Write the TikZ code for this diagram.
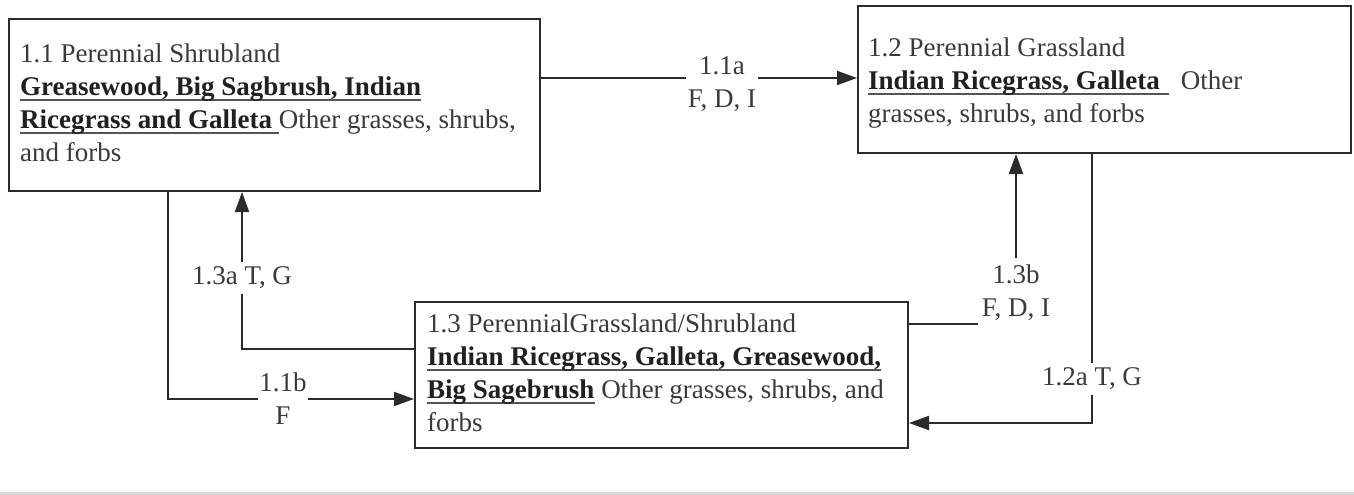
\documentclass[tikz,border=0pt]{standalone}
\usepackage{fontspec}
\setmainfont{Liberation Serif}
\usetikzlibrary{arrows.meta}
\definecolor{ink}{HTML}{2B2B2B}
\definecolor{txt}{HTML}{3A3A3A}
\definecolor{bld}{HTML}{202020}
\definecolor{ulc}{HTML}{555555}
\definecolor{band}{HTML}{D9D9D9}
\newsavebox\myulbox
\newcommand{\myul}[1]{\sbox\myulbox{\textbf{\color{bld}#1}}\leavevmode\rlap{\color{ulc}\rule[-6pt]{\wd\myulbox}{2pt}}\usebox\myulbox}
\tikzset{
  box/.style={draw=ink, line width=2pt, rectangle, anchor=north west, inner sep=0pt},
  body/.style={anchor=north west, inner sep=0pt, align=left, text=txt},
  conn/.style={draw=ink, line width=2pt},
  arr/.style={conn, -{Triangle[length=20pt,width=14pt]}},
  lbl/.style={fill=white, inner xsep=1.5pt, inner ysep=5pt, align=center, text=txt}
}
\begin{document}
\begin{tikzpicture}[x=1pt, y=-1pt, font=\fontsize{27pt}{33pt}\selectfont]
\useasboundingbox[fill=white] (0,0) rectangle (1354,495);
\fill[band] (0,492) rectangle (1354,495);

% boxes
\node[box, minimum width=531pt, minimum height=172pt] (b1) at (8,18) {};
\node[box, minimum width=493pt, minimum height=147pt] (b2) at (857,5) {};
\node[box, minimum width=493pt, minimum height=146pt] (b3) at (414,301) {};

% box texts
\node[body] (t1) at (20,43.5) {1.1 Perennial Shrubland\\
\myul{Greasewood, Big Sagbrush, Indian}\\
\myul{Ricegrass and Galleta }Other grasses, shrubs,\\
and forbs};
\node[body] (t2) at (868,37.5) {1.2 Perennial Grassland\\
\myul{Indian Ricegrass, Galleta\hspace{9pt}}\hspace{12pt}Other\\
grasses, shrubs, and forbs};
\node[body] (t3) at (427,313.5) {1.3 PerennialGrassland/Shrubland\\
\myul{Indian Ricegrass, Galleta, Greasewood,}\\
\myul{Big Sagebrush} Other grasses, shrubs, and\\
forbs};

% connectors
\draw[arr] (b1.east |- 0,78) -- (b2.west |- 0,78);
\draw[arr] (b1.south -| 168,0) |- (b3.west |- 0,399);
\draw[arr] (b3.west |- 0,349) -| (b1.south -| 242,0);
\draw[arr] (b3.east |- 0,324) -| (b2.south -| 1016,0);
\draw[arr] (b2.south -| 1092,0) |- (b3.east |- 0,423);

% connector labels
\node[lbl] (l11a) at (722,84) {1.1a\\F, D, I};
\node[lbl] (l11b) at (283,399) {1.1b\\F};
\node[lbl] (l13a) at (242,278) {1.3a T, G};
\node[lbl, minimum width=76pt, minimum height=70pt] (l13b) at (1016,293) {1.3b\\F, D, I};
\node[lbl] (l12a) at (1092,379) {1.2a T, G};
\end{tikzpicture}
\end{document}
